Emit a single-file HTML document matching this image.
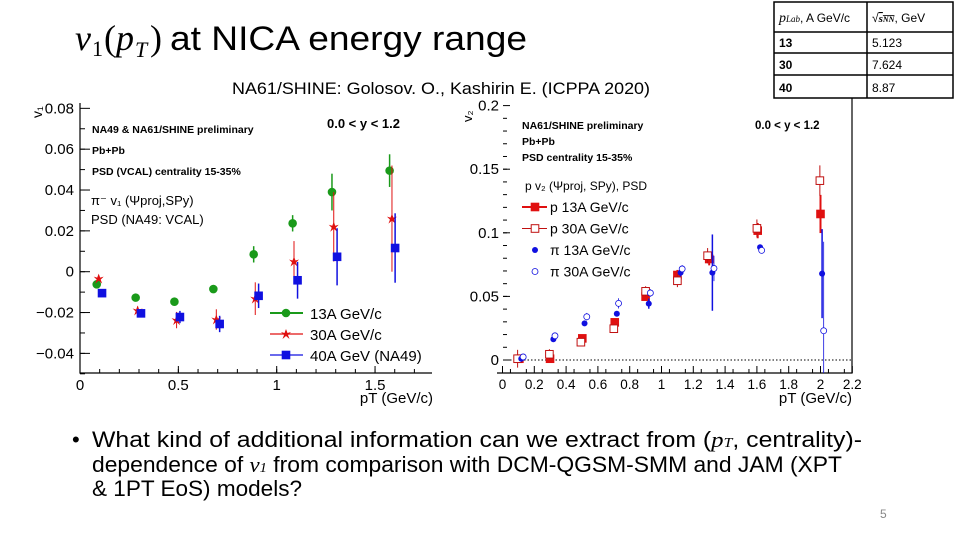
<!DOCTYPE html>
<html><head><meta charset="utf-8"><style>
html,body{margin:0;padding:0;background:#fff}
svg{display:block;font-family:"Liberation Sans",sans-serif}
</style></head><body>
<svg id="s" width="960" height="540" viewBox="0 0 960 540">
<g>
<text x="75" y="50" font-family="Liberation Serif" font-style="italic" font-size="36">v</text>
<text x="92" y="56" font-family="Liberation Serif" font-size="22">1</text>
<text x="104" y="50" font-family="Liberation Serif" font-size="36">(<tspan font-style="italic">p</tspan></text>
<text x="135" y="57" font-family="Liberation Serif" font-style="italic" font-size="22">T</text>
<text x="150" y="50" font-family="Liberation Serif" font-size="36">)</text>
<text x="170" y="50" font-size="34" textLength="357" lengthAdjust="spacingAndGlyphs">at NICA energy range</text>
</g>
<text x="232" y="94" font-size="17" textLength="418" lengthAdjust="spacingAndGlyphs">NA61/SHINE:  Golosov. O.,  Kashirin E. (ICPPA 2020)</text>

<g stroke="#000" stroke-width="1.5" fill="none">
<rect x="774" y="2" width="179" height="96"/>
<line x1="867" y1="2" x2="867" y2="98"/><line x1="774" y1="32" x2="953" y2="32"/>
<line x1="774" y1="53" x2="953" y2="53"/><line x1="774" y1="75" x2="953" y2="75"/>
</g>
<g font-size="12">
<text x="779" y="22"><tspan font-family="Liberation Serif" font-style="italic" font-size="14">p</tspan><tspan font-family="Liberation Serif" font-style="italic" font-size="9">Lab</tspan>, A GeV/c</text>
<text x="872" y="22">√<tspan font-family="Liberation Serif" font-style="italic" font-weight="bold" font-size="11" text-decoration="overline">s<tspan font-size="8">NN</tspan></tspan>, GeV</text>
<text x="779" y="47" font-weight="bold">13</text><text x="872" y="47">5.123</text>
<text x="779" y="69" font-weight="bold">30</text><text x="872" y="69">7.624</text>
<text x="779" y="92" font-weight="bold">40</text><text x="872" y="92">8.87</text>
</g>

<g id="left"></g>
<g id="right"></g>

<g font-size="22">
<text x="72" y="447">•</text>
<text x="92" y="447" textLength="770" lengthAdjust="spacingAndGlyphs">What kind of additional information can we extract from (<tspan font-family="Liberation Serif" font-style="italic">p<tspan font-size="14">T</tspan></tspan>, centrality)-</text>
<text x="92" y="472" textLength="750" lengthAdjust="spacingAndGlyphs">dependence of <tspan font-family="Liberation Serif" font-style="italic">v<tspan font-size="14">1</tspan></tspan> from comparison with DCM-QGSM-SMM and JAM (XPT</text>
<text x="92" y="496" textLength="210" lengthAdjust="spacingAndGlyphs">&amp; 1PT EoS) models?</text>
</g>
<text x="880" y="518" font-size="12" fill="#888">5</text>
</svg>
<script>
// ---- left chart data (v1) ----
const v1Series = ["13A GeV/c","30A GeV/c","40A GeV (NA49)"];
const v1x13 = [0.085,0.283,0.48,0.678,0.883,1.081,1.281,1.574];
const v1y13 = [-0.0062,-0.0127,-0.0147,-0.0085,0.0085,0.0237,0.039,0.0495];
const v1e13 = [0.001,0.001,0.001,0.001,0.004,0.004,0.009,0.008];
const v1x30 = [0.095,0.293,0.491,0.693,0.891,1.088,1.29,1.586];
const v1y30 = [-0.0034,-0.019,-0.0237,-0.0234,-0.0132,0.005,0.022,0.026];
const v1e30 = [0.001,0.002,0.004,0.005,0.008,0.01,0.017,0.026];
const v1x40 = [0.112,0.31,0.508,0.71,0.908,1.106,1.307,1.602];
const v1y40 = [-0.0105,-0.0204,-0.0222,-0.0256,-0.0118,-0.0042,0.0073,0.0116];
const v1e40 = [0.001,0.001,0.003,0.004,0.006,0.009,0.014,0.017];
const v1xTicks = [0,0.5,1,1.5];
const v1xLabels = ["0","0.5","1","1.5"];
const v1yTicks = [-0.04,-0.02,0,0.02,0.04,0.06,0.08];
const v1yLabels = ["−0.04","−0.02","0","0.02","0.04","0.06","0.08"];
// ---- right chart data (v2) ----
const v2Series = ["p 13A GeV/c","p 30A GeV/c","π 13A GeV/c","π 30A GeV/c"];
const v2xp13 = [0.106,0.299,0.502,0.706,0.9,1.1,1.3,1.605,2.0];
const v2yp13 = [0.001,0.001,0.017,0.0296,0.0498,0.0668,0.0794,0.1017,0.1148];
const v2ep13 = [0.001,0.001,0.002,0.002,0.003,0.004,0.005,0.006,0.015];
const v2xp30 = [0.095,0.295,0.493,0.7,0.9,1.1,1.29,1.6,1.996];
const v2yp30 = [0.001,0.0045,0.014,0.0246,0.054,0.0623,0.082,0.1035,0.141];
const v2ep30 = [0.007,0.004,0.003,0.003,0.004,0.005,0.006,0.007,0.012];
const v2xpi13 = [0.118,0.32,0.516,0.719,0.92,1.12,1.32,1.62,2.01];
const v2ypi13 = [0.001,0.0163,0.0288,0.0364,0.0443,0.0687,0.0687,0.0886,0.0679];
const v2epi13 = [0.001,0.001,0.002,0.002,0.004,0.003,0.03,0.002,0.035];
const v2xpi30 = [0.13,0.33,0.53,0.73,0.93,1.13,1.33,1.63,2.02];
const v2ypi30 = [0.0024,0.019,0.034,0.0445,0.0527,0.0716,0.072,0.0862,0.023];
const v2epi30 = [0.001,0.002,0.003,0.004,0.003,0.003,0.01,0.002,0.07];
const v2xTicks = [0,0.2,0.4,0.6,0.8,1,1.2,1.4,1.6,1.8,2,2.2];
const v2xLabels = ["0","0.2","0.4","0.6","0.8","1","1.2","1.4","1.6","1.8","2","2.2"];
const v2yTicks = [0,0.05,0.1,0.15,0.2];
const v2yLabels = ["0","0.05","0.1","0.15","0.2"];

const NS="http://www.w3.org/2000/svg";
function mk(p,tag,at,txt){const e=document.createElementNS(NS,tag);for(const k in at)e.setAttribute(k,at[k]);if(txt!==undefined)e.textContent=txt;p.appendChild(e);return e;}

// left scales
const LX=v=>80+196.7*v, LY=v=>271.7-2042*v;
const L=document.getElementById('left');
let a=mk(L,'path',{d:`M80 103V373H432`,fill:'none',stroke:'#000','stroke-width':1.2});


v1xTicks.forEach((t,i)=>{
  mk(L,'line',{x1:LX(t),x2:LX(t),y1:373,y2:366,stroke:'#000'});
  const tx=mk(L,'text',{x:LX(t),y:390,'text-anchor':'middle','font-size':15},v1xLabels[i]);
  
  
});
for(let t=0.1;t<1.8;t+=0.1){mk(L,'line',{x1:LX(t),x2:LX(t),y1:373,y2:369,stroke:'#000'});}
v1yTicks.forEach((t,i)=>{
  mk(L,'line',{x1:80,x2:90,y1:LY(t),y2:LY(t),stroke:'#000'});
  const tx=mk(L,'text',{x:74,y:LY(t)+5,'text-anchor':'end','font-size':15},v1yLabels[i]);
  
  
});
for(let t=-0.05;t<0.08;t+=0.01){mk(L,'line',{x1:80,x2:85,y1:LY(t),y2:LY(t),stroke:'#000'});}
mk(L,'text',{x:42,y:118,'font-size':14,transform:'rotate(-90 42 118)'},'v₁');
mk(L,'text',{x:433,y:403,'text-anchor':'end','font-size':15},'pT (GeV/c)');
mk(L,'text',{x:92,y:133,'font-size':10.5,'font-weight':'bold'},'NA49 & NA61/SHINE preliminary');
mk(L,'text',{x:92,y:154,'font-size':10.5,'font-weight':'bold'},'Pb+Pb');
mk(L,'text',{x:92,y:175,'font-size':10.5,'font-weight':'bold'},'PSD (VCAL) centrality 15-35%');
mk(L,'text',{x:327,y:128,'font-size':13,'font-weight':'bold'},'0.0 <  y < 1.2');
mk(L,'text',{x:91,y:205,'font-size':13},'π⁻ v₁ (Ψproj,SPy)');
mk(L,'text',{x:91,y:224,'font-size':13},'PSD (NA49: VCAL)');
const colsL=['#1a9a1a','#e01010','#1010e0'];
function marker(g,shape,x,y,c,open){
  if(shape==='circle')mk(g,'circle',{cx:x,cy:y,r:3.8,fill:open?'#fff':c,stroke:c,'stroke-width':1});
  else if(shape==='square')mk(g,'rect',{x:x-3.8,y:y-3.8,width:7.6,height:7.6,fill:open?'#fff':c,stroke:c,'stroke-width':1});
  else if(shape==='star')mk(g,'path',{d:`M${x} ${y-5}L${x+1.5} ${y-1}L${x+5} ${y-2}L${x+2} ${y+1}L${x+3.5} ${y+5}L${x} ${y+2}L${x-3.5} ${y+5}L${x-2} ${y+1}L${x-5} ${y-2}L${x-1.5} ${y-1}Z`,fill:c});
  else if(shape==='dot')mk(g,'circle',{cx:x,cy:y,r:3,fill:c});
  else if(shape==='odot')mk(g,'circle',{cx:x,cy:y,r:3,fill:'#fff',stroke:c,'stroke-width':0.8});
}
function series(par,name,xs,ys,es,X,Y,c,shape,open,w,ymin){
  const g=mk(par,'g',{});
  
  
  xs.forEach((x,i)=>{
    const y1=Math.min(Y(ys[i]-es[i]),ymin);
    mk(g,'line',{x1:X(x),x2:X(x),y1:y1,y2:Y(ys[i]+es[i]),stroke:c,'stroke-width':w});
    marker(g,shape,X(x),Y(ys[i]),c,open);
  });
}
series(L,'series-13A',v1x13,v1y13,v1e13,LX,LY,colsL[0],'circle',false,1.5,373);
series(L,'series-30A',v1x30,v1y30,v1e30,LX,LY,colsL[1],'star',false,1,373);
series(L,'series-40A',v1x40,v1y40,v1e40,LX,LY,colsL[2],'square',false,1.5,373);
const shL=['circle','star','square'];
v1Series.forEach((s,i)=>{
  const y=313+i*21;
  const g=mk(L,'g',{});
  
  
  mk(g,'line',{x1:270,x2:303,y1:y,y2:y,stroke:colsL[i],'stroke-width':i===0?2:1.2});
  marker(g,shL[i],286,y,colsL[i],false);
  mk(g,'text',{x:310,y:y+6,'font-size':15},s);
});

// right scales
const RX=v=>502.5+159*v, RY=v=>360-1272*v;
const R=document.getElementById('right');
a=mk(R,'path',{d:`M497 373H852V98`,fill:'none',stroke:'#000','stroke-width':1.2});


mk(R,'line',{x1:503,x2:852,y1:RY(0),y2:RY(0),stroke:'#000','stroke-dasharray':'1.5,2','stroke-width':1});
v2xTicks.forEach((t,i)=>{
  mk(R,'line',{x1:RX(t),x2:RX(t),y1:373,y2:366,stroke:'#000'});
  const tx=mk(R,'text',{x:RX(t),y:389,'text-anchor':'middle','font-size':13.5},v2xLabels[i]);
  
  
});
for(let t=0.05;t<2.2;t+=0.1){mk(R,'line',{x1:RX(t),x2:RX(t),y1:373,y2:369,stroke:'#000'});}
v2yTicks.forEach((t,i)=>{
  mk(R,'line',{x1:503,x2:510,y1:RY(t),y2:RY(t),stroke:'#000'});
  const tx=mk(R,'text',{x:499,y:RY(t)+5,'text-anchor':'end','font-size':15},v2yLabels[i]);
  
  
});
for(let t=0.01;t<0.2;t+=0.01){mk(R,'line',{x1:503,x2:507,y1:RY(t),y2:RY(t),stroke:'#000'});}
mk(R,'text',{x:472,y:122,'font-size':13,transform:'rotate(-90 472 122)'},'v₂');
mk(R,'text',{x:852,y:403,'text-anchor':'end','font-size':15},'pT (GeV/c)');
mk(R,'text',{x:522,y:129,'font-size':10.5,'font-weight':'bold'},'NA61/SHINE preliminary');
mk(R,'text',{x:522,y:145,'font-size':10.5,'font-weight':'bold'},'Pb+Pb');
mk(R,'text',{x:522,y:161,'font-size':10.5,'font-weight':'bold'},'PSD centrality 15-35%');
mk(R,'text',{x:755,y:129,'font-size':11.5,'font-weight':'bold'},'0.0 <  y < 1.2');
mk(R,'text',{x:525,y:190,'font-size':12},'p  v₂ (Ψproj, SPy), PSD');
const cR=['#e01010','#c01010','#1010e0','#1010e0'];
series(R,'series-p13A',v2xp13,v2yp13,v2ep13,RX,RY,cR[0],'square',false,2,373);
series(R,'series-p30A',v2xp30,v2yp30,v2ep30,RX,RY,cR[1],'square',true,1,373);
series(R,'series-pi13A',v2xpi13,v2ypi13,v2epi13,RX,RY,cR[2],'dot',false,1.5,373);
series(R,'series-pi30A',v2xpi30,v2ypi30,v2epi30,RX,RY,cR[3],'odot',true,0.8,373);
const shR=['square','square','dot','odot'];
v2Series.forEach((s,i)=>{
  const y=207+i*21.5;
  const g=mk(R,'g',{});
  
  
  if(i<2)mk(g,'line',{x1:522,x2:547,y1:y,y2:y,stroke:cR[i],'stroke-width':i===0?2:1});
  marker(g,shR[i],535,y,cR[i],i===1);
  mk(g,'text',{x:550,y:y+5,'font-size':14},s);
});
</script>
</body></html>
